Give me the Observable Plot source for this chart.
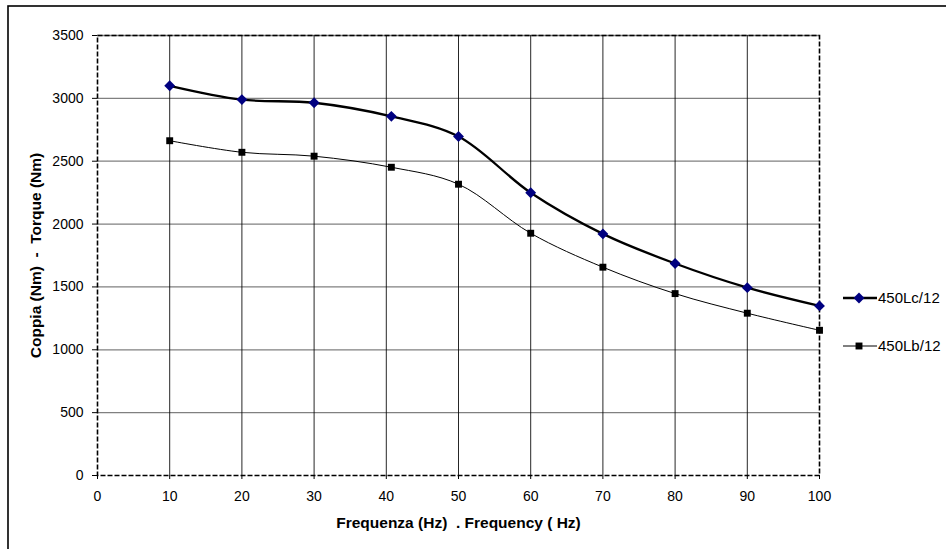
<!DOCTYPE html>
<html>
<head>
<meta charset="utf-8">
<script src="https://cdn.jsdelivr.net/npm/d3@7"></script>
<script src="https://cdn.jsdelivr.net/npm/@observablehq/plot@0.6"></script>
<style>
  html, body { margin: 0; padding: 0; background: #fff; }
  #chart { position: relative; width: 946px; height: 549px; overflow: hidden; }
</style>
</head>
<body>
<div id="chart"></div>
<script>
// ---- data ----
const freq = [10, 20, 30, 40.7, 50, 60, 70, 80, 90, 100];
const lc12 = [3100, 2990, 2965, 2857, 2697, 2249, 1922, 1686, 1494, 1349];
const lb12 = [2663, 2571, 2540, 2452, 2317, 1927, 1657, 1447, 1291, 1155];
const seriesNames = ["450Lc/12", "450Lb/12"];
const xTicks = [0, 10, 20, 30, 40, 50, 60, 70, 80, 90, 100];
const yTicks = [0, 500, 1000, 1500, 2000, 2500, 3000, 3500];
const xTitle = "Frequenza (Hz)  . Frequency ( Hz)";
const yTitle = "Coppia (Nm)  -  Torque (Nm)";

const rowsLc = freq.map((f, i) => ({f, v: lc12[i], s: seriesNames[0]}));
const rowsLb = freq.map((f, i) => ({f, v: lb12[i], s: seriesNames[1]}));

const W = 946, H = 549;
const mL = 97, mR = 127, mT = 35, mB = 74;
const FONT = "'Liberation Sans', Arial, sans-serif";

const plot = Plot.plot({
  width: W,
  height: H,
  marginLeft: mL,
  marginRight: mR,
  marginTop: mT,
  marginBottom: mB,
  style: {fontFamily: FONT, color: "#000", background: "transparent"},
  x: {domain: [0, 100], ticks: xTicks},
  y: {domain: [0, 3500], ticks: yTicks},
  marks: [
    // horizontal gridlines (grey)
    Plot.ruleY(yTicks.filter(d => d > 0), {stroke: "#808080", strokeWidth: 1.3, strokeOpacity: 1}),
    // vertical gridlines (black)
    Plot.ruleX(xTicks.filter(d => d > 0 && d < 100), {stroke: "#000", strokeWidth: 1, strokeOpacity: 0.85}),
    // dashed plot-area frame
    Plot.frame({stroke: "#000", strokeWidth: 1.6, strokeDasharray: "5,2"}),
    Plot.axisX({ticks: xTicks, tickSize: 4, tickPadding: 12, label: null, tickFormat: d => String(d)}),
    Plot.axisY({ticks: yTicks, tickSize: 5, tickPadding: 9, label: null, tickFormat: d => String(d)}),
    Plot.text([xTitle], {frameAnchor: "bottom", dy: 48, lineAnchor: "middle", textAnchor: "middle", fontWeight: "bold"}),
    Plot.text([yTitle], {frameAnchor: "left", dx: -61, rotate: -90, lineAnchor: "middle", textAnchor: "middle", fontWeight: "bold"}),
    // series
    Plot.line(rowsLb, {x: "f", y: "v", stroke: "#000", strokeWidth: 1, curve: "catmull-rom"}),
    Plot.line(rowsLc, {x: "f", y: "v", stroke: "#000", strokeWidth: 2.3, curve: "catmull-rom"}),
    Plot.dot(rowsLb, {x: "f", y: "v", symbol: "square", r: 3.9, fill: "#000", stroke: "none"}),
    Plot.dot(rowsLc, {x: "f", y: "v", symbol: "diamond2", r: 4.9, fill: "#000080", stroke: "none"})
  ]
});

document.getElementById("chart").appendChild(plot);

const svg = d3.select(plot);
// force font sizes
svg.selectAll("text").style("font-family", FONT).style("white-space", "pre");
svg.selectAll("g[aria-label='x-axis tick label'] text, g[aria-label='y-axis tick label'] text").style("font-size", "14px");
svg.selectAll("g[aria-label='text'] text").style("font-size", "15.5px").style("font-weight", "bold").style("text-anchor", "middle");

// outer chart border
svg.insert("rect", ":first-child")
  .attr("x", 8).attr("y", 6).attr("width", W + 20).attr("height", H + 20)
  .attr("fill", "#fff").attr("stroke", "#000").attr("stroke-width", 1.6);

// legend
const legend = svg.append("g");
const legY = [298, 346];
seriesNames.forEach((name, i) => {
  const g = legend.append("g").attr("transform", `translate(0,${legY[i]})`);
  g.append("line").attr("x1", 843).attr("x2", 877).attr("y1", 0).attr("y2", 0)
    .attr("stroke", "#000").attr("stroke-width", i === 0 ? 2.3 : 1);
  if (i === 0) {
    g.append("path").attr("d", d3.symbol(d3.symbolDiamond2, Math.PI * 4.9 * 4.9)())
      .attr("transform", "translate(859,0)").attr("fill", "#000080");
  } else {
    g.append("path").attr("d", d3.symbol(d3.symbolSquare, Math.PI * 3.9 * 3.9)())
      .attr("transform", "translate(859,0)").attr("fill", "#000");
  }
  g.append("text").attr("x", 878).attr("y", 0).attr("dy", "0.35em")
    .attr("text-anchor", "start")
    .style("font-family", FONT).style("font-size", "15px").style("text-anchor", "start")
    .text(name);
});
</script>
</body>
</html>
